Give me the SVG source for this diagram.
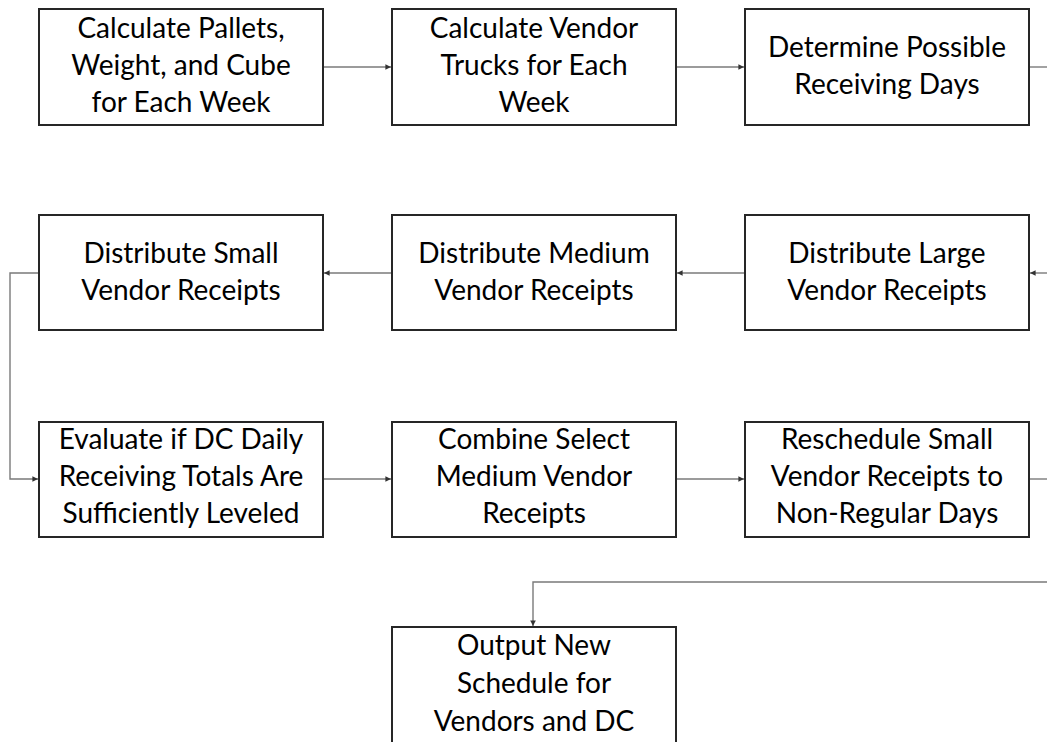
<svg xmlns="http://www.w3.org/2000/svg" width="1047" height="742" viewBox="0 0 1047 742">
<style>
.box{fill:#fff;stroke:#262626;stroke-width:2}
.lbl{font-family:Lato,"Liberation Sans",sans-serif;font-size:28px;fill:#000;text-anchor:middle}
.con{fill:none;stroke:#7a7a7a;stroke-width:1.4}
</style>
<defs>
<marker id="ah" viewBox="0 0 6 6" refX="6" refY="3" markerWidth="4" markerHeight="4" markerUnits="strokeWidth" orient="auto">
<path d="M0,0 L6,3 L0,6 z" fill="#333"/>
</marker>
</defs>
<rect width="1047" height="742" fill="#fff"/>
<g id="connectors">
<path class="con" d="M323,67 H391" marker-end="url(#ah)"/>
<path class="con" d="M676,67 H744" marker-end="url(#ah)"/>
<path class="con" d="M1029,67 H1047"/>
<path class="con" d="M1047,273 H1030" marker-end="url(#ah)"/>
<path class="con" d="M745,273 H677" marker-end="url(#ah)"/>
<path class="con" d="M392,273 H324" marker-end="url(#ah)"/>
<path class="con" d="M39,273 H10 V479 H38" marker-end="url(#ah)"/>
<path class="con" d="M323,479 H391" marker-end="url(#ah)"/>
<path class="con" d="M676,479 H744" marker-end="url(#ah)"/>
<path class="con" d="M1029,479 H1047"/>
<path class="con" d="M1047,582 H533 V626" marker-end="url(#ah)"/>
</g>
<g id="n1"><rect class="box" x="39" y="9" width="284" height="116"/>
<text class="lbl" x="181" y="38">Calculate Pallets,</text><text class="lbl" x="181" y="75">Weight, and Cube</text><text class="lbl" x="181" y="112">for Each Week</text></g>
<g id="n2"><rect class="box" x="392" y="9" width="284" height="116"/>
<text class="lbl" x="534" y="38">Calculate Vendor</text><text class="lbl" x="534" y="75">Trucks for Each</text><text class="lbl" x="534" y="112">Week</text></g>
<g id="n3"><rect class="box" x="745" y="9" width="284" height="116"/>
<text class="lbl" x="887" y="57">Determine Possible</text><text class="lbl" x="887" y="94">Receiving Days</text></g>
<g id="n4"><rect class="box" x="745" y="215" width="284" height="115"/>
<text class="lbl" x="887" y="263">Distribute Large</text><text class="lbl" x="887" y="300">Vendor Receipts</text></g>
<g id="n5"><rect class="box" x="392" y="215" width="284" height="115"/>
<text class="lbl" x="534" y="263">Distribute Medium</text><text class="lbl" x="534" y="300">Vendor Receipts</text></g>
<g id="n6"><rect class="box" x="39" y="215" width="284" height="115"/>
<text class="lbl" x="181" y="263">Distribute Small</text><text class="lbl" x="181" y="300">Vendor Receipts</text></g>
<g id="n7"><rect class="box" x="39" y="422" width="284" height="115"/>
<text class="lbl" x="181" y="449">Evaluate if DC Daily</text><text class="lbl" x="181" y="486">Receiving Totals Are</text><text class="lbl" x="181" y="523">Sufficiently Leveled</text></g>
<g id="n8"><rect class="box" x="392" y="422" width="284" height="115"/>
<text class="lbl" x="534" y="449">Combine Select</text><text class="lbl" x="534" y="486">Medium Vendor</text><text class="lbl" x="534" y="523">Receipts</text></g>
<g id="n9"><rect class="box" x="745" y="422" width="284" height="115"/>
<text class="lbl" x="887" y="449">Reschedule Small</text><text class="lbl" x="887" y="486">Vendor Receipts to</text><text class="lbl" x="887" y="523">Non-Regular Days</text></g>
<g id="n10"><rect class="box" x="392" y="627" width="284" height="130"/>
<text class="lbl" x="534" y="655">Output New</text><text class="lbl" x="534" y="693">Schedule for</text><text class="lbl" x="534" y="731">Vendors and DC</text></g>
</svg>
